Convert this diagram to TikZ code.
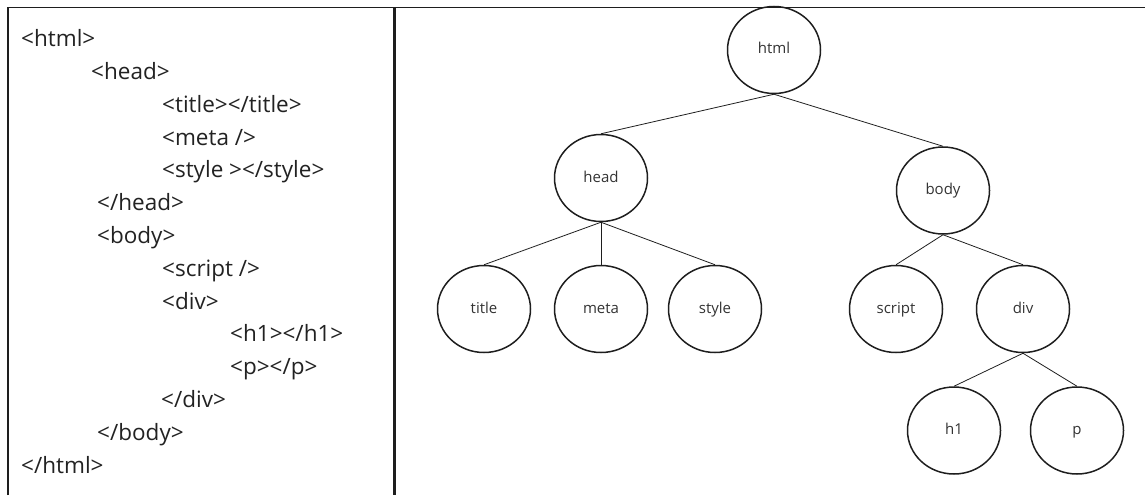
\documentclass[tikz,border=0pt]{standalone}
\usepackage{fontspec}
\setmainfont{Open Sans}
\usetikzlibrary{shapes.geometric}
\definecolor{ink}{HTML}{1E1E1E}
\definecolor{txt}{HTML}{222222}
\definecolor{ltxt}{HTML}{333333}
\tikzset{
  codeline/.style={anchor=base west, inner sep=0pt, text=txt, font=\fontsize{22.5}{27}\selectfont},
  treenode/.style={ellipse, draw=ink, line width=1.5pt, minimum width=93pt, minimum height=87pt, inner sep=0pt, text height=8pt, text depth=0pt, text=ltxt, font=\fontsize{15}{18}\selectfont},
  edge/.style={draw=ink, line width=0.8pt},
  frame/.style={draw=ink, line width=1.5pt},
  divider/.style={draw=ink, line width=3.5pt}
}
\begin{document}
\begin{tikzpicture}[x=1pt,y=-1pt]
\useasboundingbox (0,0) rectangle (1145,495);
% frame
\coordinate (tl) at (8,7.5);
\coordinate (tr) at (1145,7.5);
\coordinate (bl) at (8,495);
\coordinate (dt) at (394.7,7.5);
\coordinate (db) at (394.7,495);
\draw[frame] (bl) -- (tl) -- (tr);
\draw[divider] (dt) -- (db);
% code
\node[codeline] (c0) at (21,46.6) {<html>};
\node[codeline] (c1) at (91,79.4) {<head>};
\node[codeline] (c2) at (162,112.2) {<title></title>};
\node[codeline] (c3) at (162,145) {<meta />};
\node[codeline] (c4) at (162,177.8) {<style ></style>};
\node[codeline] (c5) at (97,210.6) {</head>};
\node[codeline] (c6) at (97,243.4) {<body>};
\node[codeline] (c7) at (162,276.2) {<script />};
\node[codeline] (c8) at (162,309) {<div>};
\node[codeline] (c9) at (230,341.8) {<h1></h1>};
\node[codeline] (c10) at (230,374.6) {<p></p>};
\node[codeline] (c11) at (161,407.4) {</div>};
\node[codeline] (c12) at (97,440.2) {</body>};
\node[codeline] (c13) at (21,473) {</html>};
% tree
\node[treenode] (html) at (774,50) {html};
\node[treenode] (head) at (601,178) {head};
\node[treenode] (body) at (943,190.5) {body};
\node[treenode] (title) at (484,309) {title};
\node[treenode] (meta) at (601,309) {meta};
\node[treenode] (style) at (715,309) {style};
\node[treenode] (script) at (896,309) {script};
\node[treenode] (div) at (1023,309) {div};
\node[treenode] (h1) at (954,430.5) {h1};
\node[treenode] (p) at (1077,430.5) {p};
\draw[edge] (html.south) -- (head.north);
\draw[edge] (html.south) -- (body.north);
\draw[edge] (head.south) -- (title.north);
\draw[edge] (head.south) -- (meta.north);
\draw[edge] (head.south) -- (style.north);
\draw[edge] (body.south) -- (script.north);
\draw[edge] (body.south) -- (div.north);
\draw[edge] (div.south) -- (h1.north);
\draw[edge] (div.south) -- (p.north);
\end{tikzpicture}
\end{document}
